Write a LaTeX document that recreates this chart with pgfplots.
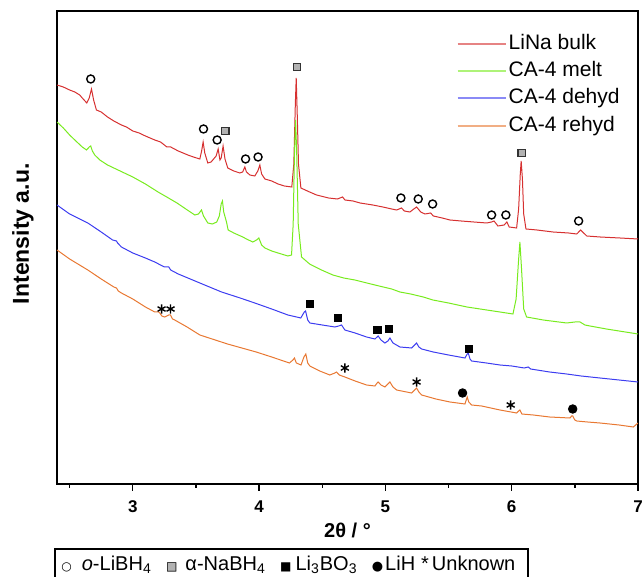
\documentclass[border=0pt]{standalone}
\usepackage{pgfplots}
\pgfplotsset{compat=1.18}
\usepackage{fontspec}
\setmainfont{Liberation Sans}
\newfontfamily\symfont{DejaVu Sans}
\definecolor{cRed}{RGB}{214,48,48}
\definecolor{cGreen}{RGB}{120,235,30}
\definecolor{cBlue}{RGB}{60,60,240}
\definecolor{cOrange}{RGB}{232,120,50}
\begin{document}
\begin{tikzpicture}
\path[use as bounding box] (-28.5pt,-46.5pt) rectangle (292.5pt,242pt);
\begin{axis}[
  at={(0,0)}, anchor=south west,
  scale only axis, width=290.5pt, height=236.5pt,
  xmin=2.4, xmax=7, ymin=0, ymax=473,
  xtick={3,4,5,6,7}, minor xtick={2.5,3.5,4.5,5.5,6.5},
  ytick=\empty,
  tick align=outside, xtick pos=left,
  major tick length=3.5pt, minor tick length=2pt,
  every tick/.style={black, line width=0.7pt},
  axis line style={line width=0.9pt},
  /pgf/number format/assume math mode=true,
  xticklabel style={font=\bfseries\fontsize{8.5}{9}\selectfont, yshift=-1.5pt},
  xlabel={2θ / °},
  xlabel style={font=\bfseries\fontsize{10}{12}\selectfont, at={(axis description cs:0.5,0)}, anchor=center, yshift=-23pt},
  ylabel={Intensity a.u.},
  ylabel style={font=\bfseries\fontsize{11.5}{13}\selectfont, at={([xshift=-17pt]axis description cs:0,0.529)}, anchor=center},
  legend style={draw=none, fill=none, at={(axis description cs:0.677,0.967)}, anchor=north west,
    font=\fontsize{10.5}{12}\selectfont, row sep=1.2pt,
    nodes={inner sep=1pt, text height=8pt, text depth=2.5pt}},
  legend cell align=left,
  legend image code/.code={\draw[#1,line width=1pt,draw opacity=0.6] (0pt,0pt) -- (24pt,0pt);},
  every axis plot/.append style={line width=0.5pt},
]
% LiNa bulk
\addplot[cRed, mark=none] coordinates {
(2.400,399) (2.45,397) (2.50,394) (2.541,392) (2.58,389) (2.60,386) (2.636,381) (2.655,386) (2.673,395) (2.69,384) (2.712,374) (2.75,372) (2.80,367) (2.85,363) (2.88,361) (2.910,359) (2.95,357) (3.00,353) (3.05,351) (3.10,348) (3.174,344) (3.22,342) (3.27,337) (3.30,337) (3.36,333) (3.436,329) (3.48,327) (3.531,325) (3.545,333) (3.557,342) (3.57,331) (3.594,321) (3.62,322) (3.66,328) (3.676,335) (3.690,324) (3.700,326) (3.715,338) (3.73,325) (3.752,316) (3.80,313) (3.848,311) (3.87,312) (3.887,317) (3.90,312) (3.927,309) (3.966,308) (3.99,313) (4.006,319) (4.02,310) (4.046,305) (4.10,303) (4.15,300) (4.20,298) (4.259,297) (4.275,320) (4.287,380) (4.294,406) (4.302,370) (4.312,320) (4.331,296) (4.40,292) (4.455,289) (4.55,286) (4.62,285) (4.661,287) (4.68,284) (4.743,283) (4.80,281) (4.90,279) (4.980,277) (5.05,275) (5.089,274) (5.128,276) (5.15,273) (5.194,272) (5.225,275) (5.247,277) (5.28,272) (5.313,270) (5.358,271) (5.38,268) (5.45,266) (5.511,264) (5.60,263) (5.70,262) (5.802,261) (5.840,262) (5.860,263) (5.891,258) (5.94,259) (5.962,262) (5.98,257) (6.039,256) (6.055,275) (6.068,310) (6.075,323) (6.085,305) (6.095,270) (6.113,255) (6.20,254) (6.327,252) (6.45,251) (6.515,250) (6.546,254) (6.594,248) (6.70,247) (6.858,246) (7.0,245)
};
\addlegendentry{LiNa bulk}
% CA-4 melt
\addplot[cGreen, mark=none] coordinates {
(2.400,362) (2.45,356) (2.50,349) (2.541,344) (2.60,337) (2.634,334) (2.655,337) (2.667,338) (2.68,333) (2.699,329) (2.739,324) (2.80,319) (2.90,313) (3.0,307) (3.10,300) (3.20,292) (3.269,287) (3.35,281) (3.42,275) (3.491,269) (3.52,270) (3.544,274) (3.56,268) (3.594,261) (3.63,260) (3.665,262) (3.685,268) (3.700,280) (3.710,283) (3.72,272) (3.742,262) (3.755,254) (3.80,251) (3.871,247) (3.90,245) (3.950,242) (3.98,244) (3.998,246) (4.02,239) (4.046,236) (4.10,233) (4.15,231) (4.228,228) (4.257,229) (4.270,260) (4.280,330) (4.289,364) (4.298,330) (4.310,260) (4.336,227) (4.40,220) (4.494,214) (4.584,209) (4.67,206) (4.758,204) (4.853,201) (4.95,198) (5.05,195) (5.115,192) (5.20,190) (5.30,187) (5.376,184) (5.50,181) (5.646,177) (5.75,175) (5.907,172) (6.010,170) (6.035,185) (6.055,225) (6.065,242) (6.078,215) (6.095,175) (6.118,167) (6.25,164) (6.435,161) (6.50,162) (6.541,162) (6.58,159) (6.620,158) (6.75,155) (6.90,152) (7.0,150)
};
\addlegendentry{CA-4 melt}
% CA-4 dehyd
\addplot[cBlue, mark=none] coordinates {
(2.400,279) (2.50,270) (2.644,261) (2.75,252) (2.84,244) (2.871,243) (2.88,241) (2.910,237) (3.0,231) (3.10,226) (3.174,222) (3.25,217) (3.285,217) (3.30,214) (3.36,210) (3.436,206) (3.55,200) (3.703,192) (3.85,186) (3.966,181) (4.10,175) (4.228,169) (4.297,167) (4.33,166) (4.358,172) (4.368,173) (4.385,164) (4.402,161) (4.50,159) (4.600,157) (4.630,158) (4.653,159) (4.679,154) (4.76,151) (4.851,147) (4.917,145) (4.943,148) (4.965,144) (4.996,141) (5.02,143) (5.036,146) (5.06,141) (5.115,137) (5.208,136) (5.232,139) (5.247,141) (5.265,137) (5.287,135) (5.379,132) (5.50,129) (5.630,126) (5.648,130) (5.656,131) (5.670,125) (5.683,123) (5.80,121) (5.907,119) (6.0,118) (6.10,116) (6.131,117) (6.15,115) (6.30,112) (6.435,110) (6.55,108) (6.699,106) (6.85,104) (7.0,102)
};
\addlegendentry{CA-4 dehyd}
% CA-4 rehyd
\addplot[cOrange, mark=none] coordinates {
(2.400,234) (2.50,225) (2.644,214) (2.75,205) (2.85,197) (2.871,196) (2.885,193) (2.910,191) (3.0,185) (3.10,177) (3.174,172) (3.205,172) (3.214,171) (3.23,168) (3.253,167) (3.285,169) (3.298,169) (3.315,165) (3.332,164) (3.43,157) (3.531,149) (3.75,140) (3.977,132) (4.10,127) (4.240,121) (4.268,124) (4.280,126) (4.295,121) (4.332,119) (4.355,127) (4.370,130) (4.385,121) (4.402,118) (4.48,113) (4.560,109) (4.600,111) (4.613,112) (4.635,109) (4.679,107) (4.76,103) (4.851,99) (4.917,98) (4.935,101) (4.943,102) (4.965,99) (4.996,97) (5.02,100) (5.036,102) (5.06,97) (5.089,94) (5.208,91) (5.232,94) (5.247,96) (5.265,92) (5.287,89) (5.40,85) (5.511,82) (5.630,80) (5.640,84) (5.648,87) (5.660,82) (5.683,79) (5.762,78) (5.907,74) (6.039,71) (6.055,73) (6.065,74) (6.080,70) (6.171,69) (6.30,67) (6.461,66) (6.475,68) (6.483,68) (6.500,64) (6.515,63) (6.600,62) (6.699,61) (6.85,59) (6.963,57) (7.0,61)
};
\addlegendentry{CA-4 rehyd}
% o-LiBH4
\addplot[forget plot, only marks, mark=o, mark size=2pt, mark options={black, line width=0.7pt}] coordinates {
(2.667,405) (3.560,355) (3.668,344) (3.893,325) (3.992,327) (5.123,286) (5.260,285) (5.374,280) (5.841,269) (5.954,269) (6.530,263)
};
% alpha-NaBH4
\addplot[forget plot, only marks, mark=square*, mark size=1.8pt, mark options={draw=black!80, fill=gray!60, line width=0.6pt}] coordinates {
(3.734,353) (4.301,417) (6.079,331)
};
% Li3BO3
\addplot[forget plot, only marks, mark=square*, mark size=1.9pt, mark options={black}] coordinates {
(4.404,180) (4.626,166) (4.938,154) (5.028,155) (5.661,135)
};
% LiH
\addplot[forget plot, only marks, mark=*, mark size=2.1pt, mark options={black}] coordinates {
(5.611,91) (6.483,75)
};
% Unknown
\addplot[forget plot, only marks, mark=asterisk, mark size=2.3pt, mark options={black, line width=0.7pt}] coordinates {
(3.228,175) (3.299,175) (4.679,116) (5.247,102) (5.992,79)
};
\end{axis}
% bottom key box
\draw[line width=0.6pt] (-1pt,-32.5pt) rectangle (235.5pt,-55pt);
\node[anchor=base west, inner sep=0pt, font=\fontsize{10}{12}\selectfont] at (2pt,-43.5pt)
  {\makebox[227pt][l]{{\symfont\fontsize{6}{6}\selectfont ○}\hspace{5pt}\textit{o}-LiBH\textsubscript{4}\hfill
   {\symfont\fontsize{6}{6}\selectfont\rlap{\textcolor{gray!60}{■}}□}\hspace{4pt}α-NaBH\textsubscript{4}\hfill
   {\symfont\fontsize{6}{6}\selectfont ■}\hspace{2pt}Li\textsubscript{3}BO\textsubscript{3}\hfill
   {\symfont\fontsize{6.5}{6.5}\selectfont ●}\hspace{1pt}LiH\hspace{3pt}*\hspace{1.5pt}Unknown}};
\end{tikzpicture}
\end{document}
